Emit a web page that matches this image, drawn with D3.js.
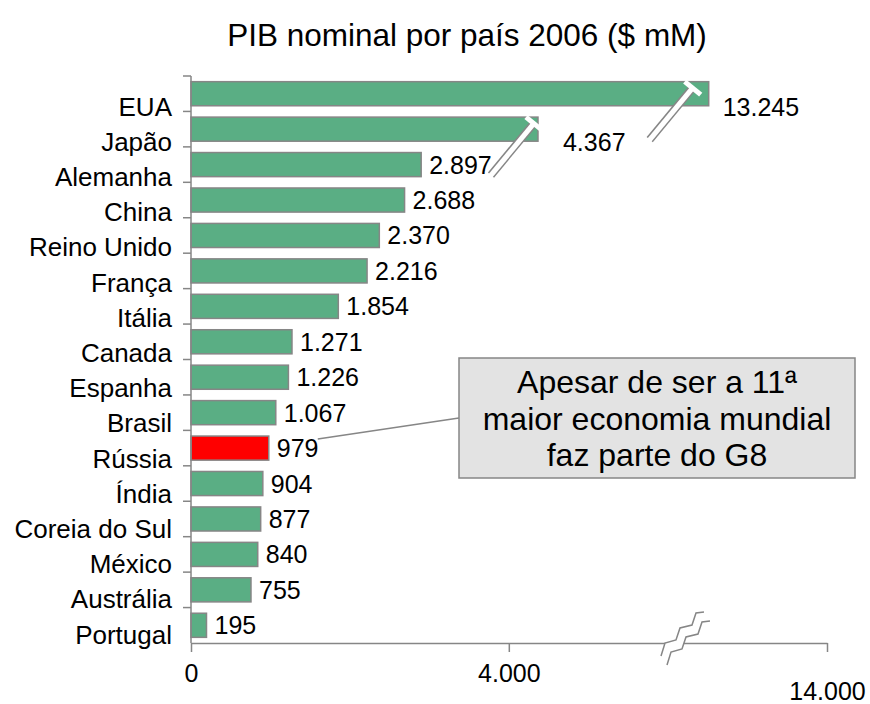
<!DOCTYPE html>
<html>
<head>
<meta charset="utf-8">
<script src="https://cdn.jsdelivr.net/npm/d3@7"></script>
<style>
  body { margin: 0; background: #fff; }
  text { font-family: "Liberation Sans", Arial, sans-serif; fill: #000; }
</style>
</head>
<body>
<div id="chart"></div>
<script>
// Data
const countries = ["EUA", "Japão", "Alemanha", "China", "Reino Unido", "França", "Itália", "Canada",
  "Espanha", "Brasil", "Rússia", "Índia", "Coreia do Sul", "México", "Austrália", "Portugal"];
const gdp = [13245, 4367, 2897, 2688, 2370, 2216, 1854, 1271, 1226, 1067, 979, 904, 877, 840, 755, 195];
const xTicks = [0, 4000, 14000];
const highlight = "Rússia";
const brokenBars = ["EUA", "Japão"];
const title = "PIB nominal por país 2006 ($ mM)";
const note = ["Apesar de ser a 11ª", "maior economia mundial", "faz parte do G8"];

const data = countries.map((c, i) => ({country: c, value: gdp[i]}));

const width = 870;
const height = 704;

const svg = d3.select("#chart")
  .append("svg")
  .attr("width", width)
  .attr("height", height);

// colours
const green = "#5aae84";
const red = "#ff0000";
const grey = "#868686";

// number format 1.234
const fmt = d3.formatLocale({decimal: ",", thousands: ".", grouping: [3], currency: ["$", ""]}).format(",");

// ------ Scales ------ //
// broken axis: the values between the break are squeezed to one point
const xScale = d3.scaleLinear()
  .domain([0, 6230, 13100, 14000])
  .range([191, 686, 686, 827]);

const yScale = d3.scaleBand()
  .domain(countries)
  .range([76, 643])
  .paddingInner(0.32)
  .paddingOuter(0.16);

// ------ Title ------ //
svg.append("text")
  .text(title)
  .attr("x", 467)
  .attr("y", 35)
  .attr("text-anchor", "middle")
  .attr("dominant-baseline", "central")
  .style("font-size", "31.5px");

// ------ Bars ------ //
svg.selectAll(".bar")
  .data(data)
  .join("rect")
    .attr("class", "bar")
    .attr("x", xScale(0))
    .attr("y", d => yScale(d.country))
    .attr("width", d => xScale(d.value) - xScale(0))
    .attr("height", yScale.bandwidth())
    .attr("fill", d => d.country === highlight ? red : green)
    .attr("stroke", grey)
    .attr("stroke-width", 1.5);

// break marks on the long bars
const markShift = {"EUA": 16, "Japão": 4};
brokenBars.forEach(c => {
  const v = gdp[countries.indexOf(c)];
  const x1 = xScale(v) - markShift[c];
  const y1 = yScale(c) + 6;
  const x0 = x1 - 43;
  const y0 = y1 + 52;
  svg.append("line")
    .attr("x1", x0).attr("y1", y0).attr("x2", x1).attr("y2", y1)
    .attr("stroke", grey).attr("stroke-width", 8);
  svg.append("line")
    .attr("x1", x0 - 2).attr("y1", y0 + 2.5).attr("x2", x1 + 1).attr("y2", y1 - 1)
    .attr("stroke", "#fff").attr("stroke-width", 5);
  // white cap
  svg.append("line")
    .attr("x1", x1 - 8).attr("y1", y1 - 6).attr("x2", x1 + 8).attr("y2", y1 + 7)
    .attr("stroke", "#fff").attr("stroke-width", 5);
});

// ------ Value labels ------ //
const labelShift = {"EUA": [14, 13], "Japão": [25, 13]};
svg.selectAll(".value")
  .data(data)
  .join("text")
    .attr("class", "value")
    .text(d => fmt(d.value))
    .attr("x", d => xScale(d.value) + (labelShift[d.country] ? labelShift[d.country][0] : 8))
    .attr("y", d => yScale(d.country) + yScale.bandwidth() / 2 + (labelShift[d.country] ? labelShift[d.country][1] : 0))
    .attr("dominant-baseline", "central")
    .style("font-size", "25px");

// ------ Y axis ------ //
const step = yScale.step();
svg.append("line")
  .attr("x1", xScale(0)).attr("x2", xScale(0))
  .attr("y1", 76).attr("y2", 643)
  .attr("stroke", grey).attr("stroke-width", 1.5);
svg.selectAll(".ytick")
  .data(countries)
  .join("line")
    .attr("class", "ytick")
    .attr("x1", xScale(0) - 8).attr("x2", xScale(0))
    .attr("y1", d => yScale(d) - step * yScale.paddingInner() / 2)
    .attr("y2", d => yScale(d) - step * yScale.paddingInner() / 2)
    .attr("stroke", grey).attr("stroke-width", 1.5);
svg.selectAll(".cat")
  .data(countries)
  .join("text")
    .attr("class", "cat")
    .text(d => d)
    .attr("x", 172)
    .attr("y", (d, i) => yScale(d) + yScale.bandwidth() / 2 + 13 - i * 0.25)
    .attr("text-anchor", "end")
    .attr("dominant-baseline", "central")
    .style("font-size", "26px");

// ------ X axis ------ //
const bottomAxis = d3.axisBottom(xScale)
  .tickValues(xTicks)
  .tickSize(9)
  .tickSizeOuter(0)
  .tickPadding(12)
  .tickFormat(fmt);
const xAxis = svg.append("g")
  .attr("transform", "translate(0, 643)")
  .call(bottomAxis);
xAxis.select(".domain").attr("stroke", grey).attr("stroke-width", 1.5);
xAxis.selectAll(".tick line").attr("stroke", grey).attr("stroke-width", 1.5);
xAxis.selectAll(".tick text")
  .style("font-size", "25px")
  .style("font-family", "'Liberation Sans', Arial, sans-serif")
  .attr("fill", "#000")
  .attr("dy", d => d === 14000 ? "1.45em" : "0.71em");

// axis break squiggle
const bx = xScale(6230);
const zig = dx => [[bx - 25 + dx, 656], [bx - 21 + dx, 643], [bx - 10 + dx, 640], [bx - 6 + dx, 628],
  [bx + 6 + dx, 625], [bx + 10 + dx, 613], [bx + 18 + dx, 612]];
const a = zig(0);
const b = zig(6).map(p => [p[0], p[1] + 9]);
svg.append("path")
  .attr("d", d3.line()(a.concat(b.slice().reverse())) + "Z")
  .attr("fill", "#fff");
[a, b].forEach(pts => {
  svg.append("path")
    .attr("d", d3.line()(pts))
    .attr("fill", "none")
    .attr("stroke", grey)
    .attr("stroke-width", 1.5);
});

// ------ Annotation ------ //
const rus = gdp[countries.indexOf(highlight)];
svg.append("line")
  .attr("x1", xScale(rus) + 49)
  .attr("y1", yScale(highlight) + 3)
  .attr("x2", 459)
  .attr("y2", 418)
  .attr("stroke", grey)
  .attr("stroke-width", 1.5);
svg.append("rect")
  .attr("x", 459)
  .attr("y", 358)
  .attr("width", 396)
  .attr("height", 120)
  .attr("fill", "#e3e3e3")
  .attr("stroke", grey)
  .attr("stroke-width", 1.5);
svg.append("text")
  .attr("x", 657)
  .attr("y", 382)
  .attr("text-anchor", "middle")
  .style("font-size", "32px")
  .selectAll("tspan")
  .data(note)
  .join("tspan")
    .attr("x", 657)
    .attr("dy", (d, i) => i === 0 ? "0.35em" : "36.5px")
    .text(d => d);
</script>
</body>
</html>
